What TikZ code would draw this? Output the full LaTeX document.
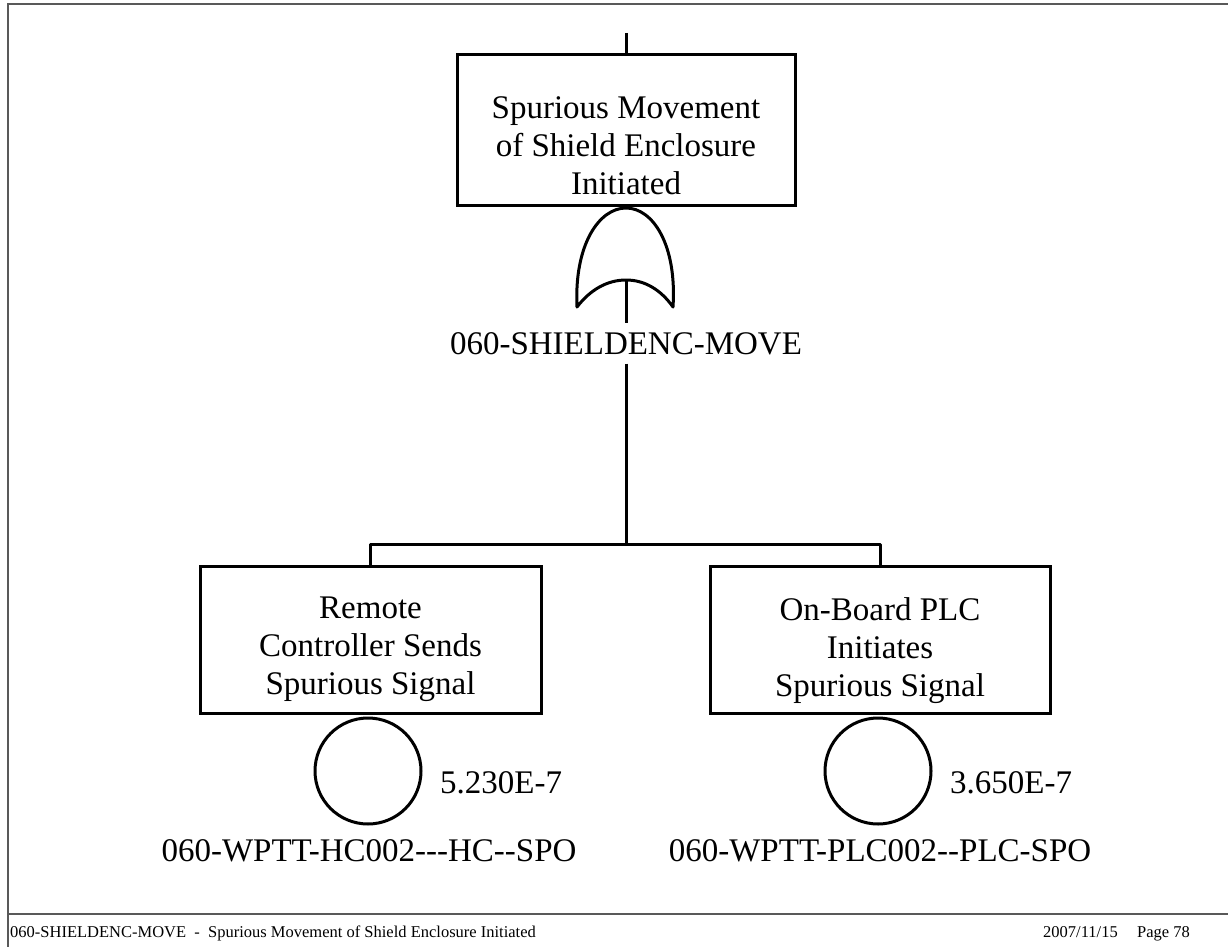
\documentclass[tikz,border=0pt]{standalone}
\usepackage{fontspec}
\setmainfont{Liberation Serif}[Ligatures=TeXOff]
\begin{document}
\begin{tikzpicture}[x=1pt,y=-1pt,
  ln/.style={line width=3pt, line join=round},
  frame/.style={line width=1.5pt, draw=black!65},
  evbox/.style={draw, line width=3pt, rectangle, inner sep=0pt},
  basic/.style={draw, line width=3pt, circle, inner sep=0pt, minimum size=106pt},
  big/.style={font=\fontsize{33}{38}\selectfont, inner sep=0pt},
  boxtxt/.style={big, align=center, anchor=north},
  foot/.style={font=\fontsize{16.5}{18}\selectfont, inner sep=0pt, anchor=base west}
]
\useasboundingbox (0,0) rectangle (1228,947);
% page frame
\draw[frame] (1228,4) -- (8,4) -- (8,947);
\draw[frame] (8,914) -- (1228,914);

% top event
\coordinate (topin) at (626,33);
\node[evbox, minimum width=338pt, minimum height=150pt] (top) at (626,130) {};
\node[boxtxt] (toptxt) at (626,96) {Spurious Movement\\of Shield Enclosure\\Initiated};
\draw[ln] (topin) -- (top.north);

% OR gate
\coordinate (gapex) at (626,208);
\coordinate (gin) at (626,280);
\draw[ln] (577,307) .. controls (574,245) and (599,208) .. (gapex)
  .. controls (653,208) and (677,245) .. (673,307)
  .. controls (661,290) and (645,280) .. (gin)
  .. controls (607,280) and (590,290) .. (577,307) -- cycle;
\node[big, anchor=base, inner sep=9pt] (glabel) at (626,354) {060-SHIELDENC-MOVE};
\draw[ln] (gin) -- (glabel.north);
\coordinate (j) at (626,544);
\draw[ln] (glabel.south) -- (j);

% child events
\node[evbox, minimum width=341pt, minimum height=147pt] (left) at (370.5,639.5) {};
\node[boxtxt] (lefttxt) at (370.5,597) {Remote\\Controller Sends\\Spurious Signal};
\node[evbox, minimum width=340pt, minimum height=147pt] (right) at (880,639.5) {};
\node[boxtxt] (righttxt) at (880,597) {On-Board PLC\\Initiates\\Spurious Signal};
\draw[ln] (j) -| (left.north);
\draw[ln] (j) -| (right.north);

% basic events
\node[basic] (lc) at (368,771) {};
\node[big, anchor=base west] (lp) at (440,793) {5.230E-7};
\node[big, anchor=base] (lid) at (369,861) {060-WPTT-HC002---HC--SPO};
\node[basic] (rc) at (878,771) {};
\node[big, anchor=base west] (rp) at (950,793) {3.650E-7};
\node[big, anchor=base] (rid) at (880,861) {060-WPTT-PLC002--PLC-SPO};

% footer
\node[foot] (f1) at (10,937) {060-SHIELDENC-MOVE\ \ -\ \ Spurious Movement of Shield Enclosure Initiated};
\node[foot] (f2) at (1043,937) {2007/11/15};
\node[foot] (f3) at (1137,937) {Page 78};
\end{tikzpicture}
\end{document}
